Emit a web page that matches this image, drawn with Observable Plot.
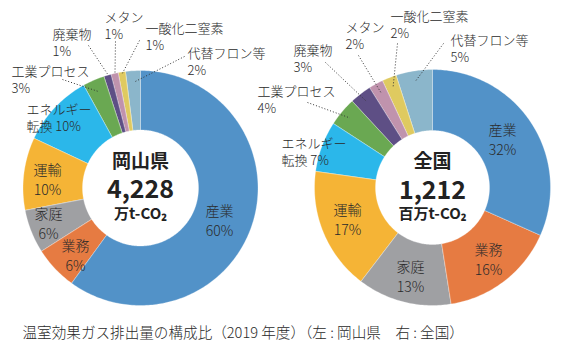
<!DOCTYPE html>
<html><head><meta charset="utf-8">
<script src="https://cdn.jsdelivr.net/npm/d3@7"></script>
<script src="https://cdn.jsdelivr.net/npm/@observablehq/plot@0.6"></script>
<style>body{margin:0;background:#fff}</style>
</head><body><div id="chart"></div>
<script>
// ---- data ----
const categories = ["産業","業務","家庭","運輸","エネルギー転換","工業プロセス","廃棄物","メタン","一酸化二窒素","代替フロン等"];
const okayamaShares = [60, 6, 6, 10, 10, 3, 1, 1, 1, 2];
const nationalShares = [32, 16, 13, 17, 7, 4, 3, 2, 2, 5];
const regionNames = ["岡山県", "全国"];
const totals = ["4,228", "1,212"];
const units = ["万t-CO₂", "百万t-CO₂"];
const caption = "温室効果ガス排出量の構成比（2019 年度）（左 : 岡山県　右 : 全国）";

// ---- style / layout ----
const colors = ["#5292c8","#e67b42","#9fa0a3","#f5b436","#2bb7ea","#6aa852","#5e4f85","#c093ad","#dfca60","#8bb6cb"];
const W = 572, H = 355;
const charts = [
  {cx: 140, cy: 187.5, r0: 58, r1: 117.5, shares: okayamaShares,
   labelPos: [[219,219.5],[75,254],[48,222.5],[47,178],[26,116.5],[11,78.5],[52,41.5],[104,24.5],[145,36],[187,60.5]],
   leaderEnd: [null,null,null,null,null,[62,79],[88,45],[115,41],[139,40],[184,56]],
   leaderR: [0,0,0,0,0,105,119,117,116,106],
   center: [[140,161],[140,189],[140,214]]},
  {cx: 432, cy: 187, r0: 57, r1: 118, shares: nationalShares,
   labelPos: [[502,138],[488,258],[410,275],[347,218],[281,150.5],[257,99],[293,57.5],[345,34.5],[390,23.5],[450,47.5]],
   leaderEnd: [null,null,null,null,null,[307,102],[325,62],[358,55],[397,43],[443,43]],
   leaderR: [0,0,0,0,0,108,108,108,108,108],
   center: [[432,161],[432,190],[432,214]]}
];
const insideCount = 4;

const pt = (c, r, a) => [c.cx + r * Math.sin(a), c.cy - r * Math.cos(a)];
const slices = [], labels = [], leaders = [], centerTexts = [];
charts.forEach((c, ci) => {
  const arcs = d3.pie().sort(null).value(d => d)(c.shares);
  arcs.forEach((a, i) => {
    const n = Math.max(2, Math.ceil((a.endAngle - a.startAngle) / (Math.PI / 180)) + 1);
    const ring = [];
    for (let k = 0; k < n; k++) ring.push(pt(c, c.r1, a.startAngle + (a.endAngle - a.startAngle) * k / (n - 1)));
    for (let k = n - 1; k >= 0; k--) ring.push(pt(c, c.r0, a.startAngle + (a.endAngle - a.startAngle) * k / (n - 1)));
    ring.push(ring[0]);
    slices.push({type: "Feature", properties: {cat: categories[i]}, geometry: {type: "Polygon", coordinates: [ring]}});
    const cat = categories[i], v = c.shares[i];
    const text = cat === "エネルギー転換" ? `エネルギー\n転換 ${v}%` : `${cat}\n${v}%`;
    labels.push({text, x: c.labelPos[i][0], y: c.labelPos[i][1], inside: i < insideCount});
    if (c.leaderEnd[i]) {
      const mid = (a.startAngle + a.endAngle) / 2;
      const p = pt(c, c.leaderR[i], mid);
      leaders.push({x1: c.leaderEnd[i][0], y1: c.leaderEnd[i][1], x2: p[0], y2: p[1]});
    }
  });
  centerTexts.push({text: regionNames[ci], x: c.center[0][0], y: c.center[0][1], size: 19});
  centerTexts.push({text: totals[ci], x: c.center[1][0], y: c.center[1][1], size: 25});
  centerTexts.push({text: units[ci], x: c.center[2][0], y: c.center[2][1], size: 15});
});

const font = "'Noto Sans CJK JP', 'Noto Sans', sans-serif";
const plot = Plot.plot({
  width: W, height: H, margin: 0,
  style: {fontFamily: font, background: "#fff"},
  projection: {type: "identity", domain: {type: "Polygon", coordinates: [[[0,0],[W,0],[W,H],[0,H],[0,0]]]}},
  color: {domain: categories, range: colors},
  marks: [
    Plot.geo(slices, {fill: d => d.properties.cat, stroke: "#fff", strokeWidth: 0.3}),
    Plot.link(leaders, {x1: "x1", y1: "y1", x2: "x2", y2: "y2", stroke: "#333", strokeWidth: 1, strokeDasharray: "1,2"}),
    Plot.text(labels.filter(d => d.inside), {x: "x", y: "y", text: "text", fontSize: 14, fontWeight: 300, lineHeight: 1.4, fill: "#2a2a2a", textAnchor: "middle", lineAnchor: "middle"}),
    Plot.text(labels.filter(d => !d.inside), {x: "x", y: "y", text: "text", fontSize: 13, fontWeight: 300, lineHeight: 1.3, fill: "#2a2a2a", textAnchor: "start", lineAnchor: "middle"}),
    Plot.text(centerTexts, {x: "x", y: "y", text: "text", fontSize: d => d.size, fontWeight: "bold", fill: "#222", textAnchor: "middle", lineAnchor: "middle"}),
    Plot.text([caption], {x: () => 22, y: () => 333, text: d => d, fontSize: 14.6, fontWeight: 300, fill: "#2a2a2a", textAnchor: "start", lineAnchor: "middle"})
  ]
});
document.getElementById("chart").appendChild(plot);
</script>
</body></html>
